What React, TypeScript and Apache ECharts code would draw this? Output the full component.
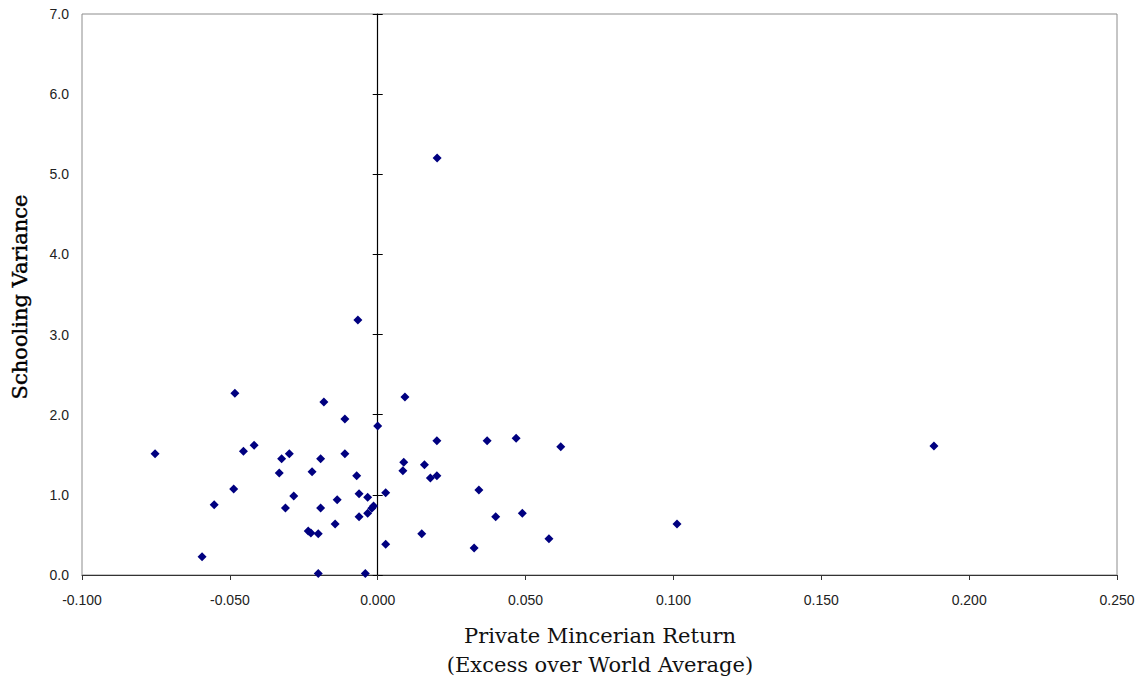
import React, { useEffect, useRef } from "react";
import * as echarts from "echarts";

// Private Mincerian return (excess over world average)
const excessReturn: number[] = [
  -0.0753, -0.0553, -0.0594, -0.0483, -0.0487, -0.0454, -0.0418, -0.0333, -0.0325, -0.0299,
  -0.0312, -0.0284, -0.0235, -0.0226, -0.0201, -0.0201, -0.0193, -0.0193, -0.0182, -0.0222,
  -0.0144, -0.0137, -0.0111, -0.0111, -0.0071, -0.0067, -0.0063, -0.0063, -0.0042, -0.0034,
  -0.0034, -0.0020, -0.0014, 0.0000, 0.0027, 0.0027, 0.0092, 0.0088, 0.0085, 0.0149,
  0.0158, 0.0178, 0.0200, 0.0200, 0.0201, 0.0326, 0.0342, 0.0370, 0.0399, 0.0468,
  0.0489, 0.0579, 0.0619, 0.1012, 0.1881,
];
// Schooling variance
const schoolingVariance: number[] = [
  1.514, 0.877, 0.229, 2.267, 1.073, 1.543, 1.618, 1.273, 1.452, 1.514,
  0.836, 0.986, 0.549, 0.524, 0.516, 0.02, 1.452, 0.836, 2.159, 1.289,
  0.636, 0.94, 1.947, 1.514, 1.239, 3.182, 1.015, 0.728, 0.02, 0.969,
  0.77, 0.832, 0.861, 1.859, 1.027, 0.383, 2.221, 1.406, 1.302, 0.516,
  1.377, 1.21, 1.239, 1.676, 5.203, 0.337, 1.061, 1.676, 0.728, 1.705,
  0.77, 0.453, 1.601, 0.636, 1.61,
];

const xTitleLines = ["Private Mincerian Return", "(Excess over World Average)"];
const yTitle = "Schooling Variance";

const titleFont = "21px 'DejaVu Serif', 'Liberation Serif', serif";

export default function App() {
  const ref = useRef<HTMLDivElement>(null);
  useEffect(() => {
    if (!ref.current) return;
    const chart = echarts.init(ref.current, null, { renderer: "svg" });
    const points = excessReturn.map((x, i) => [x, schoolingVariance[i]]);
    const yBase = {
      type: "value" as const,
      min: 0,
      max: 7,
      interval: 1,
      splitLine: { show: false },
    };
    chart.setOption({
      animation: false,
      backgroundColor: "#ffffff",
      grid: {
        left: 82,
        right: 29,
        top: 14,
        bottom: 113,
        show: true,
        borderColor: "#8c8c8c",
        borderWidth: 1,
        backgroundColor: "transparent",
      },
      xAxis: {
        type: "value",
        min: -0.1,
        max: 0.25,
        interval: 0.05,
        splitLine: { show: false },
        axisLine: { show: true, onZero: false, lineStyle: { color: "#333", width: 1 } },
        axisTick: { show: true, inside: false, length: 5, lineStyle: { color: "#333" } },
        axisLabel: {
          margin: 18,
          color: "#222",
          fontFamily: "Liberation Sans, Arial, sans-serif",
          fontSize: 14,
          formatter: (v: number) => v.toFixed(3),
        },
      },
      yAxis: [
        {
          ...yBase,
          axisLine: { show: false, onZero: false },
          axisTick: { show: false },
          axisLabel: {
            margin: 13,
            color: "#222",
            fontFamily: "Liberation Sans, Arial, sans-serif",
            fontSize: 14,
            formatter: (v: number) => v.toFixed(1),
          },
        },
        {
          ...yBase,
          axisLine: { show: true, onZero: true, onZeroAxisIndex: 0, lineStyle: { color: "#000", width: 1.2 } },
          axisTick: { show: true, inside: false, length: 5, lineStyle: { color: "#000" } },
          axisLabel: { show: false },
        },
        {
          ...yBase,
          axisLine: { show: false, onZero: true, onZeroAxisIndex: 0 },
          axisTick: { show: true, inside: true, length: 5, lineStyle: { color: "#000" } },
          axisLabel: { show: false },
        },
      ],
      series: [
        {
          type: "scatter",
          data: points,
          symbol: "diamond",
          symbolSize: 9,
          itemStyle: { color: "#000080", opacity: 1 },
        },
      ],
      graphic: [
        {
          type: "text",
          style: {
            text: xTitleLines[0],
            x: 600,
            y: 636,
            align: "center",
            verticalAlign: "middle",
            font: titleFont,
            fill: "#111",
          },
        },
        {
          type: "text",
          style: {
            text: xTitleLines[1],
            x: 600,
            y: 665,
            align: "center",
            verticalAlign: "middle",
            font: titleFont,
            fill: "#111",
          },
        },
        {
          type: "text",
          x: 20,
          y: 297,
          rotation: Math.PI / 2,
          style: {
            text: yTitle,
            x: 0,
            y: 0,
            align: "center",
            verticalAlign: "middle",
            font: titleFont,
            fill: "#000",
            stroke: "#000",
            lineWidth: 0.4,
          },
        },
      ],
    });
    return () => chart.dispose();
  }, []);
  return (
    <div
      ref={ref}
      style={{ position: "fixed", left: 0, top: 0, width: 1146, height: 688 }}
    />
  );
}
